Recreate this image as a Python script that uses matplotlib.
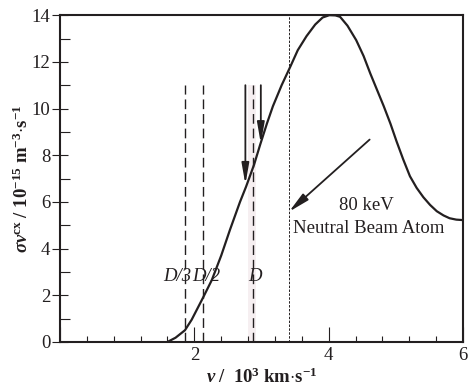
import matplotlib
matplotlib.use("Agg")
import matplotlib.pyplot as plt
from matplotlib.ticker import MultipleLocator, FixedLocator

plt.rcParams['font.family'] = ['Liberation Serif', 'DejaVu Serif']
plt.rcParams['mathtext.fontset'] = 'custom'
plt.rcParams['mathtext.rm'] = 'Liberation Serif'
plt.rcParams['mathtext.it'] = 'Liberation Serif:italic'
plt.rcParams['mathtext.bf'] = 'Liberation Serif:bold'
plt.rcParams['mathtext.bfit'] = 'Liberation Serif:italic:bold'

INK = '#231f20'

# cross-section curve
v = [1.60, 1.72, 1.86, 1.96, 2.13, 2.26, 2.40, 2.53, 2.68, 2.77, 2.89, 2.98, 3.08,
     3.17, 3.30, 3.43, 3.54, 3.67, 3.80, 3.91, 4.01, 4.10, 4.17, 4.28, 4.41, 4.52,
     4.62, 4.72, 4.82, 4.92, 5.01, 5.11, 5.21, 5.31, 5.41, 5.51, 5.61, 5.71, 5.80,
     5.90, 6.0]
sigma = [0, 0.18, 0.5, 0.95, 1.9, 2.65, 3.7, 4.8, 6.0, 6.65, 7.6, 8.45, 9.35,
         10.1, 11.0, 11.8, 12.5, 13.1, 13.6, 13.9, 14.0, 13.99, 13.93, 13.55, 12.93, 12.25,
         11.5, 10.8, 10.1, 9.35, 8.6, 7.82, 7.1, 6.6, 6.2, 5.87, 5.6, 5.42, 5.3,
         5.24, 5.22]

# dashed marker lines
d_positions = [1.86, 2.13, 2.87]
d_labels = ['D/3', 'D/2', 'D']
d_label_x = [1.74, 2.18, 2.90]
d_top = 11.0
d_label_y = 2.8
d_band = [2.80, 2.92]

beam_v = 3.41

# vertical arrows (x, start y, end y)
arrow_x = [2.76, 2.99]
arrow_y0 = [11.0, 11.0]
arrow_y1 = [6.75, 8.5]

# slanted arrow
slant_start = (4.61, 8.67)
slant_end = (3.41, 5.58)

x_ticks = [0, 2, 4, 6]
y_ticks = [0, 2, 4, 6, 8, 10, 12, 14]

fig = plt.figure(figsize=(4.71, 3.89), dpi=100)
ax = fig.add_axes([0.1274, 0.121, 0.8556, 0.840])

ax.axvspan(d_band[0], d_band[1], ymin=0, ymax=d_top / 14, color='#f6eff1', lw=0, zorder=0)

for xp in d_positions:
    ax.plot([xp, xp], [0, d_top], color=INK, lw=1.0, dashes=(7, 3.5), zorder=2)
for xl, lab in zip(d_label_x, d_labels):
    ax.text(xl, d_label_y, lab, style='italic', fontsize=13.5, color=INK,
            ha='center', va='center', zorder=3)

ax.plot([beam_v, beam_v], [0, 14], color=INK, lw=0.7, dashes=(2.5, 1.5), zorder=2)

ax.plot(v, sigma, color=INK, lw=1.6, zorder=4, solid_capstyle='round',
        solid_joinstyle='round')

for xa, ya0, ya1 in zip(arrow_x, arrow_y0, arrow_y1):
    ax.annotate('', xy=(xa, ya1), xytext=(xa, ya0),
                arrowprops=dict(arrowstyle='-|>,head_length=1.25,head_width=0.22',
                                color=INK, lw=1.3, shrinkA=0, shrinkB=0),
                zorder=5)

ax.annotate('', xy=slant_end, xytext=slant_start,
            arrowprops=dict(arrowstyle='-|>,head_length=1.25,head_width=0.25',
                            color=INK, lw=1.3, shrinkA=0, shrinkB=0), zorder=5)

ax.text(4.56, 5.86, '80 keV', fontsize=13.5, color=INK, ha='center', va='center')
ax.text(4.59, 4.87, 'Neutral Beam Atom', fontsize=13.5, color=INK, ha='center', va='center')

ax.set_xlim(0, 6)
ax.set_ylim(0, 14)

ax.xaxis.set_major_locator(FixedLocator(x_ticks))
ax.xaxis.set_minor_locator(MultipleLocator(0.4))
ax.yaxis.set_major_locator(FixedLocator(y_ticks))
ax.yaxis.set_minor_locator(MultipleLocator(1))
ax.set_xticklabels(['', '2', '4', '6'])
ax.set_yticklabels([str(t) for t in y_ticks])

ax.tick_params(axis='x', which='major', direction='in', length=11, width=0.8,
               color=INK, labelsize=13.5, labelcolor=INK, pad=4)
ax.tick_params(axis='x', which='minor', direction='in', length=4.3, width=0.8, color=INK)
ax.tick_params(axis='y', which='major', direction='inout', length=12, width=0.8,
               color=INK, labelsize=13.5, labelcolor=INK, pad=1)
ax.tick_params(axis='y', which='minor', direction='in', length=7, width=0.8, color=INK)

for s in ax.spines.values():
    s.set_linewidth(1.5)
    s.set_color(INK)

ax.set_xlabel(r'$\boldsymbol{v}\ \mathbf{/\ \ 10^3\ km{\cdot}s^{-1}}$', fontsize=13.5, color=INK,
              labelpad=2)
ax.set_ylabel(r'$\boldsymbol{\sigma v}^{\mathbf{cx}}\ \mathbf{/\ 10^{-15}\ m^{-3}{\cdot}s^{-1}}$',
              fontsize=13.5, color=INK, labelpad=0)

fig.savefig('out.png', dpi=100)
